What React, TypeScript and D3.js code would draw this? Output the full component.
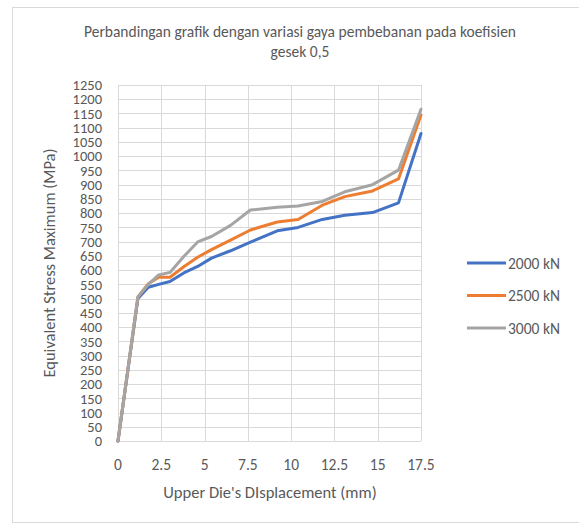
import React from "react";
import * as d3 from "d3";

const displacement = [0, 1.15, 1.75, 2.35, 3.0, 3.8, 4.6, 5.4, 6.5, 7.65, 9.2, 10.4, 11.8, 13.1, 14.7, 16.2, 17.5];
const stress2000 = [0, 500, 540, 550, 560, 590, 613, 642, 668, 698, 738, 750, 778, 793, 802, 836, 1080];
const stress2500 = [0, 505, 552, 575, 575, 612, 645, 672, 705, 741, 769, 778, 828, 858, 878, 920, 1145];
const stress3000 = [0, 507, 550, 583, 592, 648, 699, 718, 757, 811, 821, 825, 841, 875, 900, 951, 1165];
const seriesNames = ["2000 kN", "2500 kN", "3000 kN"];
const seriesColors = ["#4472C4", "#ED7D31", "#A5A5A5"];
const xTicks = [0, 2.5, 5, 7.5, 10, 12.5, 15, 17.5];
const yTicks = d3.range(0, 1251, 50);
const titleLines = ["Perbandingan grafik dengan variasi gaya pembebanan pada koefisien", "gesek 0,5"];

export default function App() {
  const W = 579, H = 525;
  const x = d3.scaleLinear().domain([0, 17.5]).range([118, 421]);
  const y = d3.scaleLinear().domain([0, 1250]).range([441, 85]);
  const all = [stress2000, stress2500, stress3000];
  const line = d3.line<[number, number]>().x(d => x(d[0])).y(d => y(d[1]));
  const font = "Carlito, Calibri, 'Liberation Sans', sans-serif";
  const textColor = "#595959";
  return (
    <svg width={W} height={H} style={{ position: "absolute", left: 0, top: 0 }} fontFamily={font}>
      <rect x={0} y={0} width={W} height={H} fill="#fff" />
      <rect x={12.5} y={7.5} width={700} height={515} fill="#fff" stroke="#D9D9D9" strokeWidth={1} />
      {titleLines.map((t, i) => (
        <text key={i} x={300} y={37 + i * 20} textAnchor="middle" fontSize={15.5} fill={textColor}>{t}</text>
      ))}
      {yTicks.map(v => (
        <line key={"gy" + v} x1={x(0)} x2={x(17.5)} y1={Math.round(y(v)) + 0.5} y2={Math.round(y(v)) + 0.5} stroke="#D9D9D9" strokeWidth={1} />
      ))}
      {xTicks.map(v => (
        <line key={"gx" + v} x1={Math.round(x(v)) + 0.5} x2={Math.round(x(v)) + 0.5} y1={y(0)} y2={y(1250)} stroke="#D9D9D9" strokeWidth={1} />
      ))}
      {yTicks.map(v => (
        <text key={"ty" + v} x={102} y={y(v)} dy="0.36em" textAnchor="end" fontSize={14.5} fill={textColor}>{v}</text>
      ))}
      {xTicks.map(v => (
        <text key={"tx" + v} x={x(v)} y={470} textAnchor="middle" fontSize={15.5} fill={textColor}>{v}</text>
      ))}
      <text x={270} y={498} textAnchor="middle" fontSize={16.5} fill={textColor}>Upper Die's DIsplacement (mm)</text>
      <text transform={`translate(55,${263}) rotate(-90)`} textAnchor="middle" fontSize={16.5} fill={textColor}>Equivalent Stress Maximum (MPa)</text>
      {all.map((s, i) => (
        <path key={"s" + i} d={line(displacement.map((d, j) => [d, s[j]] as [number, number])) || ""} fill="none" stroke={seriesColors[i]} strokeWidth={3} strokeLinejoin="round" strokeLinecap="round" />
      ))}
      {seriesNames.map((n, i) => (
        <g key={"l" + i} transform={`translate(0,${263 + i * 32.5})`}>
          <line x1={467} x2={506} y1={0} y2={0} stroke={seriesColors[i]} strokeWidth={3} />
          <text x={508} y={0} dy="0.36em" fontSize={15.5} fill={textColor}>{n}</text>
        </g>
      ))}
    </svg>
  );
}
